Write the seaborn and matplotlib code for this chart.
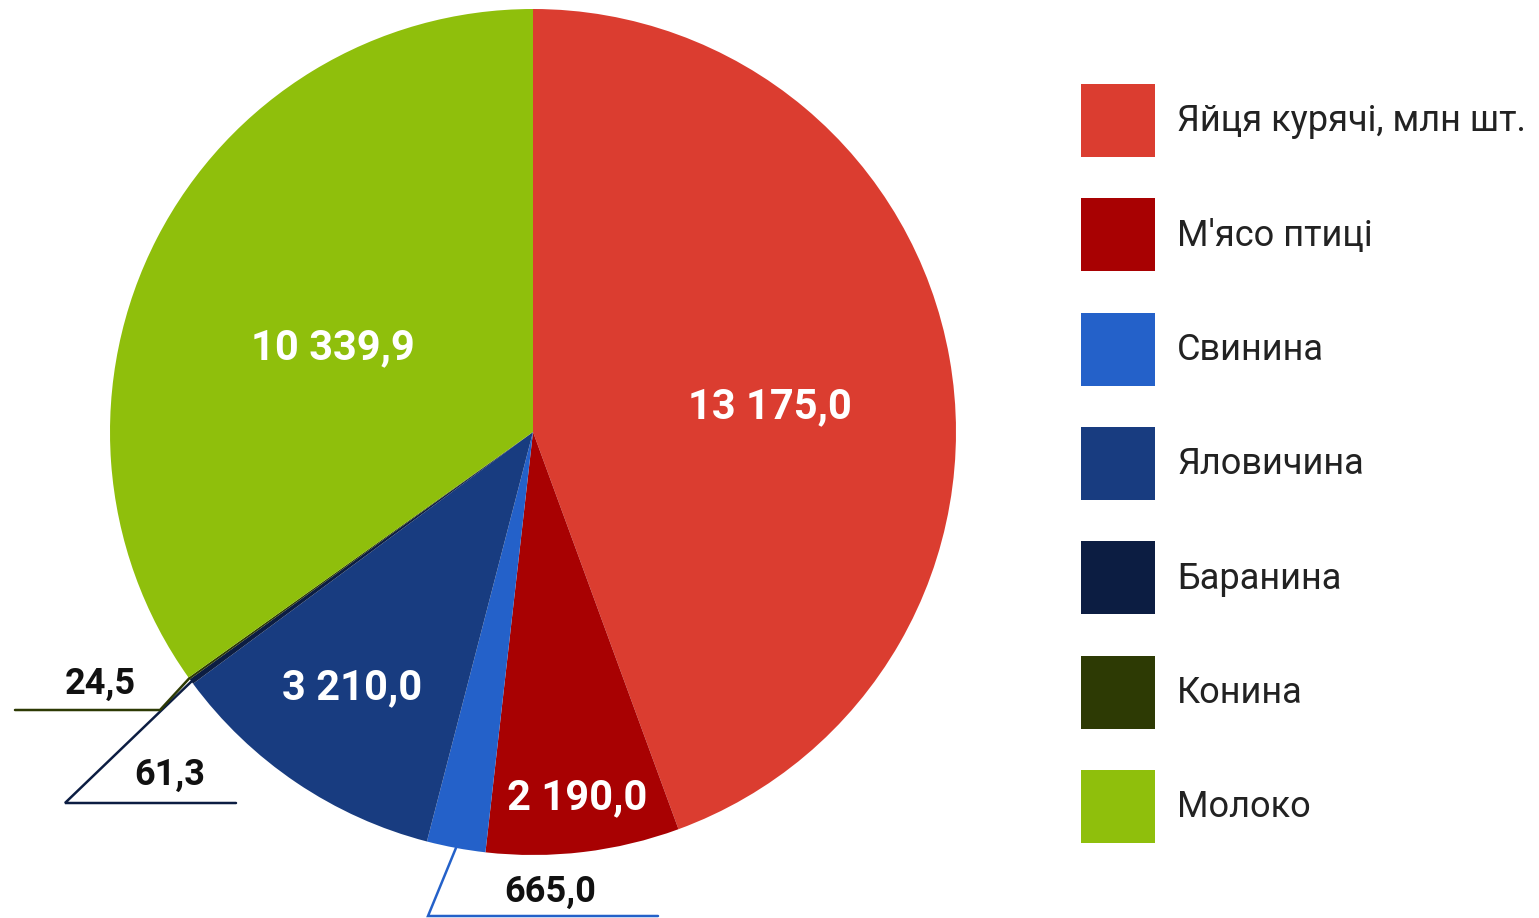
import numpy as np
import matplotlib
matplotlib.use("Agg")
import matplotlib.pyplot as plt
import seaborn as sns

# Production volumes by product
categories = ["Яйця курячі, млн шт.", "М'ясо птиці", "Свинина", "Яловичина",
              "Баранина", "Конина", "Молоко"]
values = [13175.0, 2190.0, 665.0, 3210.0, 61.3, 24.5, 10339.9]
value_labels = ["13 175,0", "2 190,0", "665,0", "3 210,0", "61,3", "24,5", "10 339,9"]
colors = ["#DB3D30", "#A80102", "#2461C9", "#183C80", "#0C1D42", "#2D3A04", "#8FBF0C"]

sns.set_theme(style="white")
plt.rcParams["font.family"] = ["Roboto", "DejaVu Sans"]

W, H = 1539, 918
fig = plt.figure(figsize=(W / 100, H / 100), dpi=100)
ax = fig.add_axes([0, 0, 1, 1])

cx, cy, R = 533, H - 432, 423
wedges, _ = ax.pie(values, colors=colors, startangle=90, counterclock=False,
                   center=(cx, cy), radius=R, wedgeprops=dict(linewidth=0))
ax.set_xlim(0, W)
ax.set_ylim(0, H)
ax.set_aspect("equal")
ax.axis("off")


def polar(angle_deg, r):
    a = np.deg2rad(angle_deg)
    return cx + r * np.cos(a), cy + r * np.sin(a)


# Labels drawn inside the larger slices: (radius fraction, angular shift)
inside = {0: (0.563, -4.0), 1: (0.87, 0.0), 3: (0.74, -1.3), 6: (0.513, 4.5)}
for i, (frac, shift) in inside.items():
    w = wedges[i]
    mid = (w.theta1 + w.theta2) / 2 + shift
    x, y = polar(mid, frac * R)
    ax.text(x, y, value_labels[i], color="white", fontsize=30, fontweight="bold",
            ha="center", va="center")

# Leader lines for the narrow slices: elbow point, line end, label anchor
outside = {
    2: ((428, H - 916), (658, H - 916), (550, H - 892)),
    4: ((65, H - 803), (236, H - 803), (170, H - 775)),
    5: ((160, H - 710), (15, H - 710), (100, H - 684)),
}
for i, (elbow, end, lab) in outside.items():
    w = wedges[i]
    mid = (w.theta1 + w.theta2) / 2
    sx, sy = polar(mid, R)
    ax.plot([sx, elbow[0], end[0]], [sy, elbow[1], end[1]], color=colors[i],
            linewidth=1.8, solid_joinstyle="miter")
    ax.text(lab[0], lab[1], value_labels[i], color="#111111", fontsize=26,
            fontweight="bold", ha="center", va="center")

# Legend: square swatches about 74 px wide, rows about 114 px apart
fs = 26
px = fs * 100 / 72
swatch_pt = 73 * 72 / 100
hh = (swatch_pt / fs - 0.245) / 0.65
ax.legend(wedges, categories, loc="upper left",
          bbox_to_anchor=(1081 / W, 1 - 84 / H), bbox_transform=fig.transFigure,
          frameon=False, fontsize=fs, borderpad=0, borderaxespad=0,
          handlelength=74 / px, handleheight=hh,
          labelspacing=(114.3 - 73) / px, handletextpad=22 / px,
          labelcolor="#222222")

fig.savefig("out.png", dpi=100)
